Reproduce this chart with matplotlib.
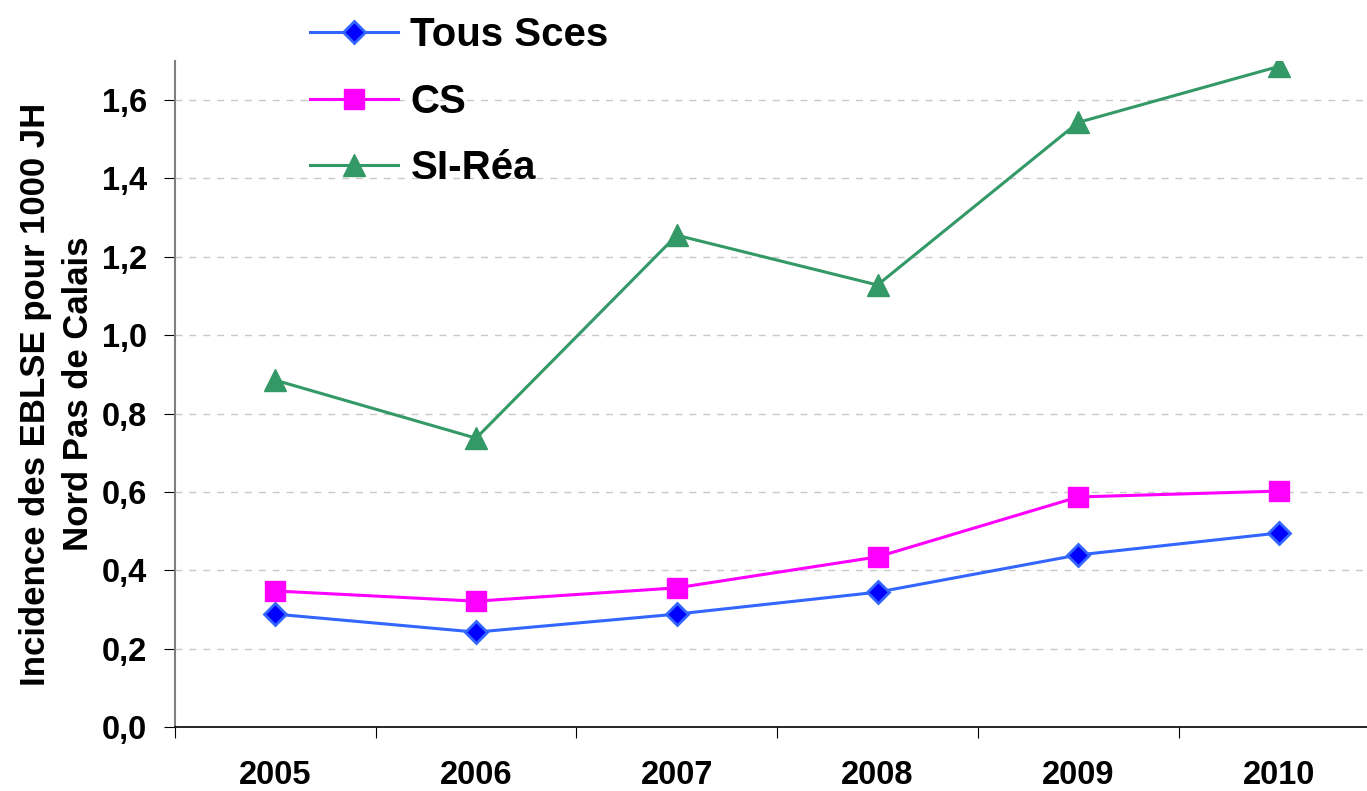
import matplotlib.pyplot as plt
from matplotlib.ticker import FuncFormatter, MultipleLocator

years = ["2005", "2006", "2007", "2008", "2009", "2010"]
tous_sces = [0.288, 0.242, 0.288, 0.344, 0.439, 0.495]
cs = [0.347, 0.321, 0.355, 0.434, 0.587, 0.602]
si_rea = [0.885, 0.737, 1.255, 1.128, 1.543, 1.686]

plt.rcParams['font.family'] = ['Liberation Sans', 'DejaVu Sans']
plt.rcParams['font.weight'] = 'bold'

fig = plt.figure(figsize=(13.67, 7.91), dpi=100)
ax = fig.add_axes([0.128, 0.081, 0.881, 0.842])

x = range(len(years))
ax.plot(x, tous_sces, color="#3366ff", lw=2.2, marker="D", ms=11,
        mfc="#0000ff", mec="#3366ff", mew=2, label="Tous Sces")
ax.plot(x, cs, color="#ff00ff", lw=2.2, marker="s", ms=14,
        mfc="#ff00ff", mec="#ff00ff", label="CS")
ax.plot(x, si_rea, color="#339966", lw=2.2, marker="^", ms=16,
        mfc="#339966", mec="#339966", label="SI-Réa")

ax.set_xlim(-0.5, 5.5)
ax.set_ylim(0, 1.7)
ax.set_xticks([i - 0.5 for i in range(7)], minor=False)
ax.set_xticklabels([])
ax.set_xticks(list(x), minor=True)
ax.set_xticklabels(years, minor=True, fontsize=23.5, fontweight="bold")
ax.tick_params(axis="x", which="minor", length=0, pad=24)
ax.tick_params(axis="x", which="major", length=8, direction="out", color="black")
ax.yaxis.set_major_locator(MultipleLocator(0.2))
ax.yaxis.set_major_formatter(FuncFormatter(lambda v, p: f"{v:.1f}".replace(".", ",")))
ax.tick_params(axis="y", length=8, direction="out", color="black", labelsize=23.5, pad=12)
for lab in ax.get_yticklabels():
    lab.set_fontweight("bold")

ax.grid(axis="y", color="#c8c8c8", linestyle=(0, (5, 5)), lw=1)
ax.set_axisbelow(True)
ax.spines["top"].set_visible(False)
ax.spines["right"].set_visible(False)
ax.spines["left"].set_color("#808080")
ax.spines["left"].set_linewidth(1.5)
ax.spines["bottom"].set_color("black")
ax.spines["bottom"].set_linewidth(1.2)

ax.set_ylabel("Incidence des EBLSE pour 1000 JH\nNord Pas de Calais",
              fontsize=25, fontweight="bold", labelpad=5, linespacing=1.4)

fig.legend(loc="upper left", bbox_to_anchor=(0.200, 1.025), frameon=False,
           handlelength=2.2, handletextpad=0.3, labelspacing=0.7,
           prop={"size": 29, "weight": "bold"})

fig.savefig("out.png", dpi=100)
